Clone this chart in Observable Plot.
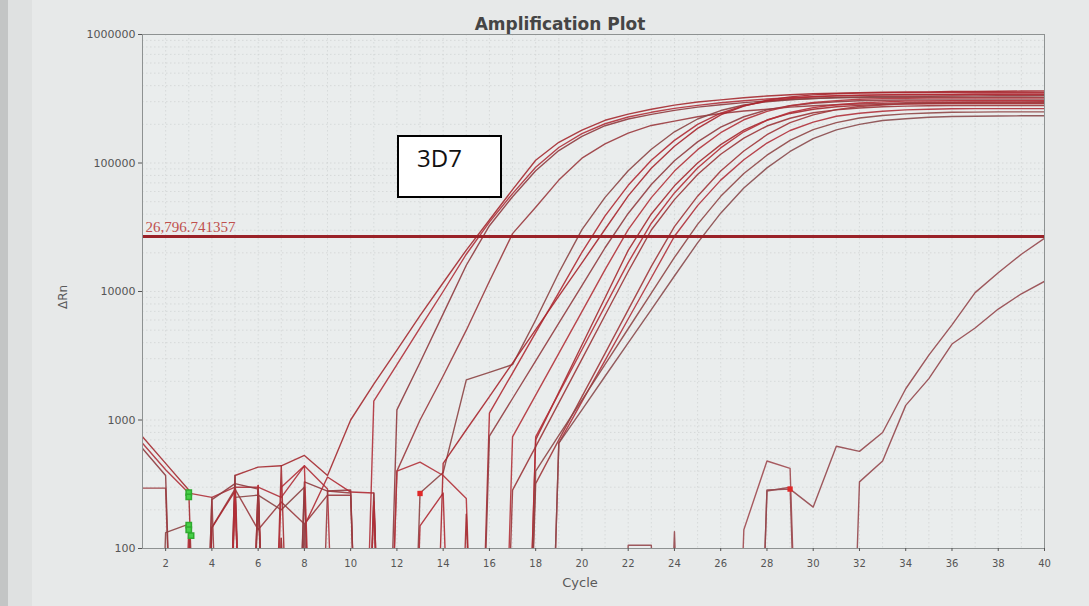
<!DOCTYPE html>
<html>
<head>
<meta charset="utf-8">
<script src="https://cdn.jsdelivr.net/npm/d3@7"></script>
<script src="https://cdn.jsdelivr.net/npm/@observablehq/plot@0.6"></script>
<style>
  body { margin: 0; background: #e7e9e9; }
  #wrap { position: relative; width: 1089px; height: 606px; overflow: hidden; background: #e7e9e9; }
  #edge { position: absolute; left: 0; top: 0; width: 8px; height: 606px; background: #c3c5c5; }
  #edge2 { position: absolute; left: 8px; top: 0; width: 24px; height: 606px; background: #dfe1e1; }
  #chart { position: absolute; left: 0; top: 0; }
  .title { position: absolute; left: 360px; width: 400px; top: 14px; text-align: center;
           font: bold 17px "DejaVu Sans", sans-serif; color: #454545; }
  .ylab { position: absolute; left: 63px; top: 297px; transform: translate(-50%, -50%) rotate(-90deg);
          font: 12px "DejaVu Sans", sans-serif; color: #5a5a5a; }
  .xlab { position: absolute; left: 580px; top: 582px; transform: translate(-50%, -50%);
          font: 13px "DejaVu Sans", sans-serif; color: #5a5a5a; }
  .box { position: absolute; left: 397px; top: 135px; width: 101px; height: 59px; background: #fff;
         border: 2px solid #000; font: 24px "Open Sans", "Liberation Sans", sans-serif; color: #111; }
  .box span { position: absolute; left: 18px; top: 4px; }
</style>
</head>
<body>
<div id="wrap">
  <div id="edge"></div>
  <div id="edge2"></div>
  <div id="chart"></div>
  <div class="title">Amplification Plot</div>
  <div class="ylab">ΔRn</div>
  <div class="xlab">Cycle</div>
  <div class="box"><span>3D7</span></div>
</div>
<script>
const cycles = [1,2,3,4,5,6,7,8,9,10,11,12,13,14,15,16,17,18,19,20,
                21,22,23,24,25,26,27,28,29,30,31,32,33,34,35,36,37,38,39,40];
const xTicks = [2,4,6,8,10,12,14,16,18,20,22,24,26,28,30,32,34,36,38,40];
const yTicks = [100, 1000, 10000, 100000, 1000000];
const threshold = 26796.741357;

// ΔRn per well, cycles 1..40 (0 = at/below zero, drawn off the bottom of the log axis)
const E1 = [740, 460, 285, 0, 370, 430, 440, 530, 370, 1000,
            1900, 3500, 6500, 11700, 21000, 36000, 62000, 105000, 145000, 180000,
            215000, 240000, 262000, 282000, 298000, 310000, 322000, 332000, 340000, 346000,
            350000, 353000, 355000, 357000, 358000, 360000, 361000, 362000, 363000, 364000];
const E2 = [660, 410, 270, 250, 300, 300, 250, 440, 290, 0,
            1400, 2700, 5200, 10000, 19500, 34700, 57800, 92700, 132000, 169000,
            202000, 228000, 248000, 266000, 281000, 294000, 305000, 315000, 322000, 328000,
            333000, 336000, 339000, 341000, 342000, 343000, 344000, 344000, 345000, 345000];
const E3 = [600, 370, 0, 240, 320, 290, 0, 330, 280, 285,
            0, 1200, 2800, 6700, 16000, 32500, 54600, 86900, 125000, 161000,
            195000, 220000, 239000, 257000, 272000, 284000, 295000, 304000, 312000, 318000,
            323000, 326000, 329000, 330000, 331000, 332000, 333000, 334000, 334000, 335000];
const E4 = [295, 295, 0, 146, 290, 140, 230, 155, 260, 260,
            0, 400, 1000, 2200, 5000, 12000, 28200, 45200, 73600, 109000,
            141000, 171000, 196000, 212000, 229000, 243000, 254000, 262000, 272000, 279000,
            284000, 288000, 291000, 294000, 296000, 297000, 298000, 299000, 299000, 300000];
const L1 = [0, 133, 155, 0, 250, 260, 200, 300, 0, 0,
            230, 0, 270, 390, 2050, 2350, 2700, 6000, 14000, 30300,
            54000, 87000, 128000, 175000, 220000, 256000, 283000, 300000, 311000, 318000,
            322000, 323000, 324000, 324000, 325000, 325000, 325000, 325000, 325000, 325000];
const L2 = [0, 0, 140, 0, 0, 310, 0, 150, 360, 275,
            270, 0, 150, 270, 0, 1130, 2320, 4780, 9800, 20200,
            38800, 67000, 105000, 150000, 200000, 244000, 279000, 303000, 318000, 328000,
            334000, 337000, 339000, 340000, 340000, 340000, 341000, 341000, 341000, 341000];
const L3 = [0, 0, 0, 145, 280, 0, 120, 0, 0, 0,
            0, 0, 0, 460, 840, 1520, 2770, 5050, 9200, 16700,
            30500, 55500, 91000, 135000, 186000, 237000, 277000, 308000, 327000, 339000,
            346000, 350000, 352000, 353000, 354000, 355000, 355000, 355000, 355000, 355000];
const L4 = [0, 0, 0, 0, 370, 0, 0, 300, 0, 0,
            270, 0, 0, 0, 0, 750, 1470, 2890, 5680, 11100,
            21900, 40500, 68000, 104000, 146000, 190000, 229000, 259000, 279000, 292000,
            300000, 305000, 308000, 309000, 310000, 310000, 310000, 310000, 310000, 310000];
const L5 = [0, 0, 0, 0, 0, 310, 0, 0, 0, 0,
            0, 400, 470, 370, 245, 0, 740, 1560, 3300, 6980,
            14800, 30300, 53800, 86500, 127000, 172000, 217000, 252000, 279000, 296000,
            306000, 313000, 317000, 319000, 320000, 320000, 320000, 320000, 320000, 320000];
const L6 = [0, 0, 0, 0, 0, 0, 440, 0, 0, 0,
            0, 0, 0, 0, 185, 0, 0, 700, 1640, 3830,
            8950, 20900, 40100, 66400, 100000, 139000, 180000, 216000, 243000, 262000,
            274000, 281000, 286000, 288000, 289000, 290000, 290000, 290000, 290000, 290000];
const L7 = [0, 0, 0, 0, 0, 0, 0, 0, 0, 0,
            0, 0, 0, 0, 0, 0, 0, 740, 1610, 3520,
            7690, 16800, 34000, 58500, 91400, 131000, 175000, 215000, 247000, 270000,
            284000, 293000, 299000, 303000, 304000, 305000, 305000, 305000, 305000, 305000];
const L8 = [0, 0, 0, 0, 0, 260, 0, 0, 0, 0,
            0, 0, 0, 0, 0, 0, 285, 620, 1360, 2980,
            6530, 14300, 30100, 51900, 81300, 117000, 156000, 194000, 223000, 246000,
            259000, 268000, 274000, 277000, 279000, 280000, 280000, 280000, 280000, 280000];
const L9 = [0, 0, 0, 0, 0, 0, 120, 0, 0, 0,
            0, 0, 0, 0, 0, 0, 0, 320, 700, 1520,
            3300, 7200, 15700, 32000, 55200, 86700, 124000, 166000, 206000, 237000,
            260000, 275000, 283000, 290000, 292000, 294000, 295000, 295000, 295000, 295000];
const L10 = [0, 0, 0, 0, 290, 0, 0, 0, 0, 0,
             0, 0, 0, 0, 0, 0, 0, 0, 660, 1390,
             2910, 6110, 12800, 26900, 46600, 73600, 106000, 143000, 179000, 208000,
             231000, 244000, 253000, 259000, 262000, 264000, 265000, 265000, 265000, 265000];
const L11 = [0, 0, 0, 0, 0, 0, 0, 0, 0, 0,
             0, 0, 0, 0, 0, 0, 0, 400, 760, 1430,
             2710, 5130, 9700, 18400, 33300, 55000, 82800, 115000, 150000, 182000,
             206000, 224000, 234000, 241000, 245000, 248000, 249000, 250000, 250000, 250000];
const L12 = [0, 0, 0, 0, 0, 0, 0, 0, 0, 0,
             0, 0, 0, 0, 0, 0, 0, 0, 660, 1200,
             2190, 3980, 7240, 13200, 23900, 40700, 63800, 91600, 123000, 155000,
             181000, 200000, 214000, 221000, 227000, 230000, 231000, 232000, 233000, 233000];
const P1 = [0, 0, 0, 0, 0, 0, 0, 155, 0, 0,
            0, 0, 0, 0, 0, 0, 0, 0, 0, 0,
            0, 106, 106, 0, 0, 0, 0, 285, 290, 210,
            625, 570, 800, 1750, 3200, 5500, 9800, 14000, 19500, 26000];
const P2 = [0, 0, 0, 0, 0, 0, 0, 0, 0, 0,
            0, 0, 0, 0, 0, 0, 0, 0, 0, 0,
            0, 0, 0, 135, 0, 0, 0, 280, 300, 0,
            0, 330, 480, 1300, 2100, 3900, 5200, 7300, 9600, 12000];
const P3 = [0, 0, 0, 0, 0, 0, 0, 0, 0, 0,
            0, 0, 0, 0, 0, 0, 0, 0, 0, 0,
            0, 0, 0, 0, 0, 0, 140, 480, 420, 0,
            0, 0, 0, 0, 0, 0, 0, 0, 0, 0];
const N1 = [0, 0, 0, 0, 280, 0, 300, 440, 0, 0,
            230, 0, 0, 0, 0, 0, 0, 0, 0, 0,
            0, 0, 0, 0, 0, 0, 0, 0, 0, 0,
            0, 0, 0, 0, 0, 0, 0, 0, 0, 0];
const N2 = [0, 0, 0, 250, 0, 290, 0, 0, 280, 270,
            0, 0, 0, 0, 0, 0, 0, 0, 0, 0,
            0, 0, 0, 0, 0, 0, 0, 0, 0, 0,
            0, 0, 0, 0, 0, 0, 0, 0, 0, 0];

const wellNames  = ["E1","E2","E3","E4","L1","L2","L3","L4","L5","L6","L7","L8","L9","L10","L11","L12","P1","P2","P3","N1","N2"];
const wellValues = [E1, E2, E3, E4, L1, L2, L3, L4, L5, L6, L7, L8, L9, L10, L11, L12, P1, P2, P3, N1, N2];
const wellColors = ["#a52a30","#b0303a","#8f3b3f","#9a3a3e","#8c4444","#b02a33","#a8262e","#913c40","#b3323a",
                    "#a52a30","#b52d36","#9b3539","#a0363a","#b0303a","#8f4646","#8a4a4c","#95474c","#95474c","#a04a50",
                    "#b52d36","#9a3a3e"];

// marker squares drawn by the instrument software
const greenCycles = [3, 3, 3, 3, 3.1];
const greenValues = [272, 252, 152, 140, 126];
const redCycles = [13, 29];
const redValues = [268, 290];

const rows = wellNames.flatMap((name, w) =>
  wellValues[w].map((v, i) => ({well: name, cycle: cycles[i], dRn: v})));
const greens = greenCycles.map((c, i) => ({cycle: c, dRn: greenValues[i]}));
const reds = redCycles.map((c, i) => ({cycle: c, dRn: redValues[i]}));

const chart = Plot.plot({
  width: 1089,
  height: 606,
  marginLeft: 142,
  marginRight: 45,
  marginTop: 34,
  marginBottom: 58,
  style: {background: "transparent", color: "#555", fontFamily: "DejaVu Sans, sans-serif"},
  x: {domain: [1, 40]},
  y: {type: "log", domain: [100, 1000000]},
  color: {domain: wellNames, range: wellColors},
  marks: [
    Plot.frame({fill: "#eaeded", stroke: "none"}),
    Plot.gridX({ticks: cycles, stroke: "#c9cdcd", strokeOpacity: 0.6, strokeDasharray: "1.5,2.5"}),
    Plot.gridY({ticks: 40, stroke: "#c9cdcd", strokeOpacity: 0.6, strokeDasharray: "1.5,2.5"}),
    Plot.line(rows, {x: "cycle", y: d => Math.max(d.dRn, 0.001), z: "well", stroke: "well",
                     strokeWidth: 1.4, strokeOpacity: 0.9, clip: true}),
    Plot.ruleY([threshold], {stroke: "#9a2228", strokeWidth: 3}),
    Plot.text([threshold], {x: 1, y: threshold, text: d => d3.format(",.6f")(d), textAnchor: "start",
                            dx: 3, dy: -9, fill: "#c0504d", fontSize: 15,
                            fontFamily: "Liberation Serif, serif"}),
    Plot.dot(greens, {x: "cycle", y: "dRn", symbol: "square", r: 3, fill: "#47d047", stroke: "#2faa2f"}),
    Plot.dot(reds, {x: "cycle", y: "dRn", symbol: "square", r: 3, fill: "#e02828"}),
    Plot.frame({stroke: "#8e9292", strokeWidth: 1}),
    Plot.axisY({ticks: yTicks, tickFormat: d3.format("d"), tickSize: 4, tickPadding: 3,
                fontSize: 11, label: null}),
    Plot.axisX({ticks: xTicks, tickSize: 3, tickPadding: 8, fontSize: 10, label: null})
  ]
});
document.getElementById("chart").appendChild(chart);
</script>
</body>
</html>
